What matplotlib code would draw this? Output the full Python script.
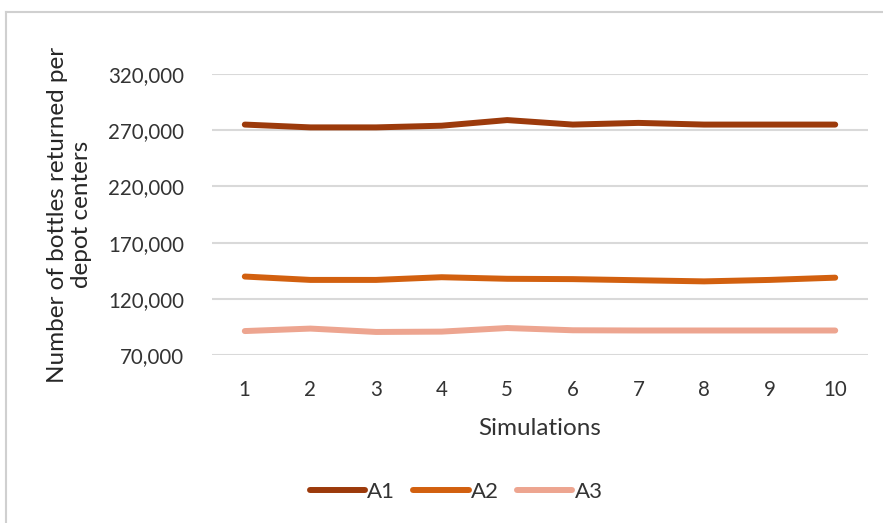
import matplotlib
matplotlib.use("Agg")
from matplotlib import pyplot as plt
from matplotlib.ticker import FuncFormatter

plt.rcParams['font.family'] = ['Lato', 'DejaVu Sans']

simulations = [1, 2, 3, 4, 5, 6, 7, 8, 9, 10]
a1 = [275000, 272500, 272500, 274000, 279000, 275000, 276500, 275000, 275000, 275000]
a2 = [139800, 136800, 136800, 139200, 137800, 137500, 136500, 135500, 136800, 138800]
a3 = [91300, 93500, 90500, 90800, 94000, 92000, 91800, 91800, 91800, 91800]
series_names = ['A1', 'A2', 'A3']
colors = ['#9C3A0B', '#D2600F', '#EDA590']

fig = plt.figure(figsize=(8.83, 5.23), dpi=100)
ax = fig.add_axes([212 / 883, 1 - 355 / 523, 656 / 883, 281 / 523])

for vals, name, c in zip([a1, a2, a3], series_names, colors):
    ax.plot(simulations, vals, color=c, lw=4.3, label=name, solid_capstyle='round')

ax.set_xlim(0.5, 10.5)
ax.set_ylim(70000, 320000)
ax.set_yticks(range(70000, 320001, 50000))
ax.yaxis.set_major_formatter(FuncFormatter(lambda v, p: f'{int(v):,}'))
ax.set_xticks(simulations)
ax.grid(axis='y', color='#D9D9D9', lw=1.5)
ax.set_axisbelow(True)
for s in ax.spines.values():
    s.set_visible(False)
ax.tick_params(axis='both', length=0, labelsize=14.8, colors='#333333')
ax.tick_params(axis='x', pad=18)
ax.tick_params(axis='y', pad=20)

ax.set_xlabel('Simulations', fontsize=17.5, color='#333333', labelpad=13)
ax.set_ylabel('Number of bottles returned per\ndepot centers', fontsize=17.5,
              color='#262626', labelpad=12, linespacing=1.15)

ax.legend(loc='center', bbox_to_anchor=(456 / 883, 1 - 492 / 523), bbox_transform=fig.transFigure,
          ncol=3, frameon=False, fontsize=16, handlelength=2.5, handletextpad=0.1,
          columnspacing=0.8, labelcolor='#333333')

# chart area border (top and left visible)
fig.add_artist(plt.Line2D([6 / 883, 1], [1 - 12 / 523, 1 - 12 / 523], transform=fig.transFigure,
                          color='#D0D0D0', lw=1.5))
fig.add_artist(plt.Line2D([6 / 883, 6 / 883], [0, 1 - 12 / 523], transform=fig.transFigure,
                          color='#D0D0D0', lw=1.5))

fig.savefig('out.png', dpi=100)
